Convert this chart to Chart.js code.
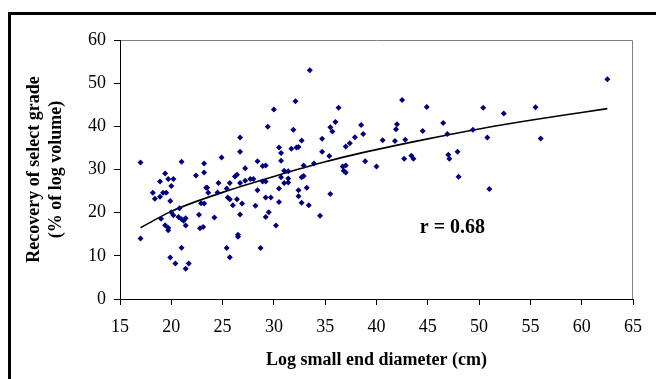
<!DOCTYPE html>
<html>
<head>
<meta charset="utf-8">
<script src="https://cdn.jsdelivr.net/npm/chart.js@4/dist/chart.umd.min.js"></script>
<style>
  html, body { margin: 0; padding: 0; background: #fff; }
  #wrap { width: 656px; height: 379px; }
</style>
</head>
<body>
<div id="wrap"><canvas id="recoveryChart" width="656" height="379"></canvas></div>
<script>
// Log small end diameter (cm)
const diameterCm = [
    17.0, 17.0, 18.2, 18.4, 18.9, 18.9, 19.0, 19.2, 19.5, 19.4,
    19.4, 19.7, 19.7, 19.7, 20.0, 19.9, 20.0, 20.2, 19.9, 20.2,
    20.4, 20.8, 20.7, 21.0, 21.0, 21.0, 21.2, 21.4, 21.4, 21.4,
    21.7, 22.4, 22.7, 22.8, 22.9, 23.1, 23.2, 23.2, 23.2, 23.4,
    23.5, 23.6, 24.2, 24.6, 24.5, 24.9, 25.4, 25.4, 25.5, 25.7,
    25.7, 25.7, 26.0, 26.2, 26.4, 26.4, 26.5, 26.5, 26.7, 26.7,
    26.7, 26.7, 26.9, 27.2, 27.2, 27.7, 28.0, 28.4, 28.4, 28.2,
    28.7, 28.9, 28.9, 29.2, 29.2, 29.2, 29.2, 29.4, 29.5, 29.7,
    30.0, 30.2, 30.5, 30.5, 30.5, 30.7, 30.7, 30.7, 31.0, 31.0,
    31.4, 31.4, 31.4, 31.7, 31.9, 32.1, 32.2, 32.4, 32.4, 32.4,
    32.7, 32.7, 32.7, 32.9, 32.9, 33.2, 33.5, 33.4, 33.9, 34.5,
    34.7, 34.7, 35.5, 35.4, 35.5, 35.7, 36.0, 36.3, 36.7, 36.8,
    37.0, 37.0, 37.0, 37.4, 37.9, 38.5, 38.7, 38.9, 40.0, 40.6,
    41.8, 41.9, 42.0, 42.5, 42.7, 42.8, 43.4, 43.6, 44.5, 44.9,
    46.5, 46.9, 47.0, 47.1, 47.9, 48.0, 49.4, 50.4, 50.8, 51.0,
    52.4, 55.5, 56.0, 62.5
];
// Recovery of select grade (% of log volume)
const recoveryPct = [
    31.6, 14.0, 24.6, 23.2, 27.2, 23.7, 18.6, 24.6, 24.6, 29.1,
    17.1, 27.8, 15.9, 16.5, 26.2, 22.7, 20.1, 27.8, 9.6, 19.4,
    8.2, 21.0, 19.0, 31.8, 11.9, 18.5, 18.1, 18.7, 17.0, 7.0,
    8.2, 28.6, 19.5, 16.4, 22.2, 16.7, 22.1, 31.4, 29.3, 25.8,
    25.8, 24.6, 18.9, 26.9, 24.7, 32.8, 25.6, 11.8, 23.5, 26.9,
    23.1, 9.7, 21.7, 28.4, 28.8, 23.1, 14.9, 14.4, 37.4, 34.1,
    26.9, 19.6, 22.1, 30.3, 27.4, 27.8, 27.8, 31.9, 25.2, 21.6,
    11.8, 30.8, 27.2, 30.9, 27.2, 23.5, 19.0, 39.9, 20.1, 23.5,
    43.9, 17.0, 35.1, 25.6, 22.5, 33.8, 32.0, 28.2, 29.7, 26.9,
    29.6, 27.9, 27.0, 34.8, 39.2, 45.8, 35.1, 35.2, 23.8, 25.2,
    36.7, 28.2, 22.3, 30.9, 28.5, 25.8, 53.0, 21.7, 31.4, 19.3,
    34.1, 37.1, 39.8, 33.1, 24.3, 38.8, 41.0, 44.3, 30.7, 29.7,
    30.9, 29.3, 35.3, 36.1, 37.5, 40.3, 38.2, 31.9, 30.7, 36.8,
    36.6, 39.3, 40.5, 46.1, 32.5, 36.9, 33.2, 32.5, 38.9, 44.5,
    40.8, 38.2, 33.4, 32.5, 34.1, 28.3, 39.2, 44.3, 37.4, 25.5,
    43.0, 44.4, 37.2, 50.9
];
// fitted curve
const trendX = [17, 20, 25, 30, 35, 40, 45, 50, 55, 60, 62.5];
const trendY = [16.5, 20.3, 24.7, 28.4, 31.8, 34.6, 37.1, 39.4, 41.4, 43.2, 44.1];

const rLabel = 'r = 0.68';
const rPos = { x: 47.4, y: 16.4 };

const serif = '"Liberation Serif", "Times New Roman", serif';

// frame and label drawn on the canvas
const framePlugin = {
    id: 'frame',
    beforeDraw(chart) {
        const c = chart.ctx;
        c.save();
        c.fillStyle = '#fff';
        c.fillRect(0, 0, chart.width, chart.height);
        c.strokeStyle = '#000';
        c.lineWidth = 3;
        c.beginPath();
        c.moveTo(9.5, chart.height);
        c.lineTo(9.5, 13.5);
        c.lineTo(chart.width, 13.5);
        c.stroke();
        // gray top/right edge of plot area
        const a = chart.chartArea;
        c.strokeStyle = '#808080';
        c.lineWidth = 1;
        c.beginPath();
        c.moveTo(a.left, a.top + 0.5);
        c.lineTo(a.right - 0.5, a.top + 0.5);
        c.lineTo(a.right - 0.5, a.bottom);
        c.stroke();
        c.restore();
    },
    afterDraw(chart) {
        const c = chart.ctx;
        const xs = chart.scales.x, ys = chart.scales.y;
        c.save();
        c.font = 'bold 20px ' + serif;
        c.fillStyle = '#000';
        c.textAlign = 'center';
        c.textBaseline = 'middle';
        c.fillText(rLabel, xs.getPixelForValue(rPos.x), ys.getPixelForValue(rPos.y));
        c.restore();
    }
};

const ctx = document.getElementById('recoveryChart').getContext('2d');
new Chart(ctx, {
    type: 'scatter',
    data: {
        datasets: [{
            label: 'Observed',
            data: diameterCm.map((d, i) => ({ x: d, y: recoveryPct[i] })),
            pointStyle: 'rectRot',
            pointRadius: 3,
            pointBackgroundColor: '#000080',
            pointBorderColor: '#000080',
            pointBorderWidth: 0
        }, {
            label: 'Fit',
            data: trendX.map((d, i) => ({ x: d, y: trendY[i] })),
            showLine: true,
            borderColor: '#000',
            borderWidth: 1.6,
            pointRadius: 0,
            cubicInterpolationMode: 'monotone'
        }]
    },
    options: {
        responsive: false,
        animation: false,
        layout: { padding: { left: 0, top: 40, right: 23, bottom: 0 } },
        plugins: {
            legend: { display: false },
            tooltip: { enabled: false }
        },
        scales: {
            x: {
                type: 'linear',
                min: 15,
                max: 65,
                ticks: {
                    stepSize: 5,
                    color: '#000',
                    padding: 11,
                    maxRotation: 0,
                    font: { family: serif, size: 18 }
                },
                grid: { drawOnChartArea: false, tickLength: 6, tickColor: '#000' },
                border: { color: '#000', width: 1 },
                title: {
                    display: true,
                    text: 'Log small end diameter (cm)',
                    color: '#000',
                    font: { family: serif, size: 18, weight: 'bold' },
                    padding: { top: 0, bottom: 8 }
                },
                afterFit(s) { s.height = 80; }
            },
            y: {
                min: 0,
                max: 60,
                ticks: {
                    stepSize: 10,
                    color: '#000',
                    padding: 8,
                    font: { family: serif, size: 18 }
                },
                grid: { drawOnChartArea: false, tickLength: 6, tickColor: '#000' },
                border: { color: '#000', width: 1 },
                title: {
                    display: true,
                    text: ['Recovery of select grade', '(% of log volume)'],
                    color: '#000',
                    font: { family: serif, size: 18, weight: 'bold' },
                    padding: { top: 24, bottom: 0 }
                },
                afterFit(s) { s.width = 120; }
            }
        }
    },
    plugins: [framePlugin]
});
</script>
</body>
</html>
